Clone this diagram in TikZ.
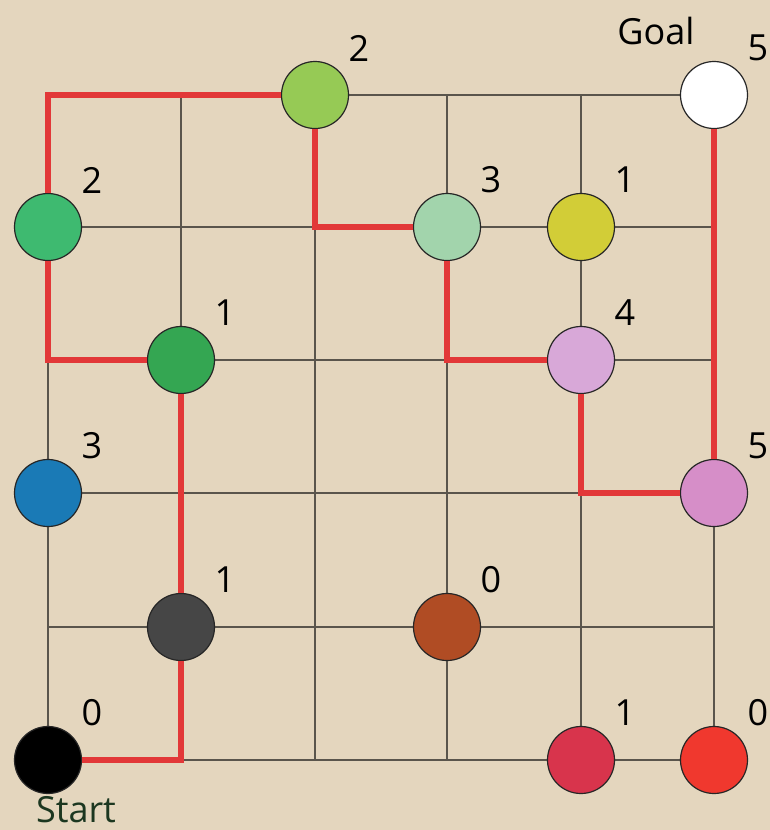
\documentclass[tikz,border=0pt]{standalone}
\usepackage{fontspec}
\setmainfont{Open Sans}
\definecolor{bg}{RGB}{228,214,190}
\definecolor{gridgray}{RGB}{90,85,76}
\definecolor{pathred}{RGB}{226,56,56}
\definecolor{cLG}{RGB}{150,202,85}
\definecolor{cTeal}{RGB}{62,186,112}
\definecolor{cPale}{RGB}{162,212,172}
\definecolor{cYel}{RGB}{210,205,55}
\definecolor{cGreen}{RGB}{52,166,82}
\definecolor{cPinkA}{RGB}{216,168,216}
\definecolor{cBlue}{RGB}{26,122,182}
\definecolor{cPinkB}{RGB}{214,142,200}
\definecolor{cDGray}{RGB}{70,70,70}
\definecolor{cBrown}{RGB}{176,76,36}
\definecolor{cCrim}{RGB}{216,52,76}
\definecolor{cRed}{RGB}{240,56,46}
\definecolor{startgreen}{RGB}{28,55,32}
\begin{document}
\begin{tikzpicture}[x=1pt,y=-1pt,
  gridline/.style={draw=gridgray,line width=2.2pt},
  pathline/.style={draw=pathred,line width=5.5pt},
  dot/.style={circle,draw=black!85,line width=1.2pt,minimum size=67pt,inner sep=0pt},
  num/.style={font=\fontsize{36}{42}\selectfont,text=black,inner sep=0pt,anchor=center},
  tag/.style={font=\fontsize{36}{42}\selectfont,inner sep=0pt,anchor=center}]
\fill[bg] (0,0) rectangle (770,830);
\useasboundingbox (0,0) rectangle (770,830);
% grid coordinates g<col><row>
\foreach \x [count=\i] in {48,181,315,447,581,714} {
  \foreach \y [count=\j] in {95,227,360,493,627,760} {
    \coordinate (g\i\j) at (\x,\y);
  }
}
% grid lines
\foreach \i in {1,...,6} {
  \draw[gridline] (g\i1) -- (g\i6);
  \draw[gridline] (g1\i) -- (g6\i);
}
% nodes
\node[dot,fill=cLG]    (lgreen) at (g31) {};
\node[dot,fill=white]  (goal)   at (g61) {};
\node[dot,fill=cTeal]  (teal)   at (g12) {};
\node[dot,fill=cPale]  (pale)   at (g42) {};
\node[dot,fill=cYel]   (yel)    at (g52) {};
\node[dot,fill=cGreen] (green)  at (g23) {};
\node[dot,fill=cPinkA] (pinka)  at (g53) {};
\node[dot,fill=cBlue]  (blue)   at (g14) {};
\node[dot,fill=cPinkB] (pinkb)  at (g64) {};
\node[dot,fill=cDGray] (dgray)  at (g25) {};
\node[dot,fill=cBrown] (brown)  at (g45) {};
\node[dot,fill=black]  (start)  at (g16) {};
\node[dot,fill=cCrim]  (crim)   at (g56) {};
\node[dot,fill=cRed]   (red)    at (g66) {};
% red path
\draw[pathline] (start) -- (g26) -- (dgray);
\draw[pathline] (dgray) -- (green);
\draw[pathline] (green) -- (g13) -- (teal);
\draw[pathline] (teal) -- (g11) -- (lgreen);
\draw[pathline] (lgreen) -- (g32) -- (pale);
\draw[pathline] (pale) -- (g43) -- (pinka);
\draw[pathline] (pinka) -- (g54) -- (pinkb);
\draw[pathline] (pinkb) -- (goal);
% numbers
\foreach \n/\v in {lgreen/2,goal/5,teal/2,pale/3,yel/1,green/1,pinka/4,blue/3,pinkb/5,dgray/1,brown/0,start/0,crim/1,red/0} {
  \node[num] (\n-num) at ([shift={(44,-47)}]\n.center) {\v};
}
\node[tag] (goaltext) at (656,31) {Goal};
\node[tag,text=startgreen] (starttext) at (76,810) {Start};
\end{tikzpicture}
\end{document}
